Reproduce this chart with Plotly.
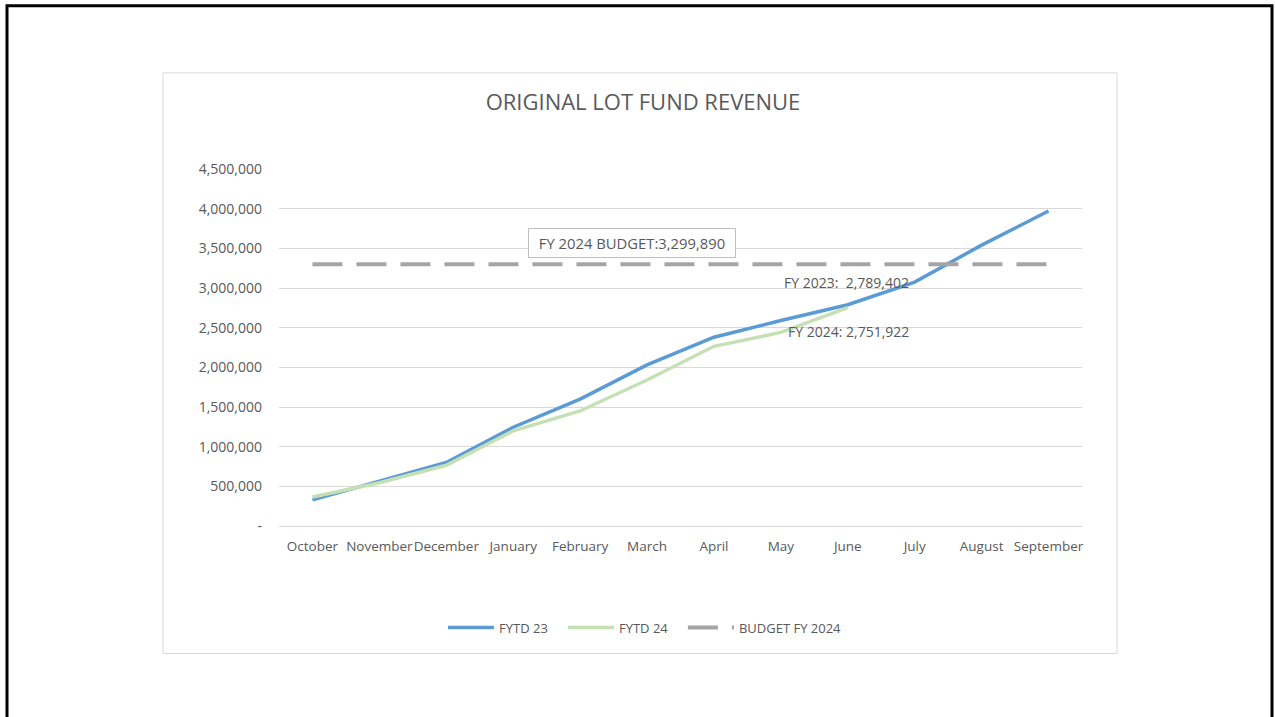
import plotly.graph_objects as go

months = ["October", "November", "December", "January", "February", "March",
          "April", "May", "June", "July", "August", "September"]
fytd_23 = [330000, 560000, 800000, 1245000, 1600000, 2030000,
           2380000, 2590000, 2789402, 3075000, 3540000, 3970000]
fytd_24 = [365000, 545000, 765000, 1200000, 1450000, 1840000,
           2265000, 2440000, 2751922]
budget_fy24 = [3299890] * 12

ytick_vals = [0, 500000, 1000000, 1500000, 2000000, 2500000, 3000000, 3500000, 4000000, 4500000]
ytick_text = ["-"] + [f"{v:,}" for v in ytick_vals[1:]]

FONT = "Open Sans"
GREY_TXT = "#595959"
PAD = "\u00a0" * 3  # a bit more room between legend entries

fig = go.Figure()
fig.add_trace(go.Scatter(x=months, y=fytd_23, mode="lines", name="FYTD 23" + PAD,
                         line=dict(color="#5b9bd5", width=3.5)))
fig.add_trace(go.Scatter(x=months[:len(fytd_24)], y=fytd_24, mode="lines", name="FYTD 24" + PAD,
                         line=dict(color="#c5e0b4", width=3.5)))
fig.add_trace(go.Scatter(x=months, y=budget_fy24, mode="lines", name="BUDGET FY 2024",
                         line=dict(color="#a5a5a5", width=4, dash="30px,14px")))

# plot area in pixels: x 279..1082, y 169..525.6
PL, PR, PT, PB = 279, 1082, 169, 525.6

def px_x(p):
    return (p - PL) / (PR - PL)

def px_y(p):
    return (PB - p) / (PB - PT)

shapes = [
    # page frame
    dict(type="rect", xref="paper", yref="paper",
         x0=px_x(7), x1=px_x(1272), y0=px_y(740), y1=px_y(6),
         line=dict(color="black", width=3), layer="below"),
    # chart box
    dict(type="rect", xref="paper", yref="paper",
         x0=px_x(163), x1=px_x(1117), y0=px_y(653), y1=px_y(73),
         line=dict(color="#d9d9d9", width=1), layer="below"),
]

annotations = [
    dict(text="FY 2024 BUDGET:3,299,890", xref="paper", yref="paper",
         x=px_x(632), y=px_y(242.5), xanchor="center", yanchor="middle", showarrow=False,
         width=198, height=20, align="center",
         font=dict(family=FONT, size=14.8, color=GREY_TXT),
         bordercolor="#bfbfbf", borderwidth=1, borderpad=4, bgcolor="white"),
    dict(text="FY 2023:  2,789,402", xref="paper", yref="paper",
         x=px_x(911), y=px_y(282), xanchor="right", yanchor="middle", showarrow=False,
         font=dict(family=FONT, size=14, color=GREY_TXT)),
    dict(text="FY 2024: 2,751,922", xref="paper", yref="paper",
         x=px_x(911), y=px_y(331), xanchor="right", yanchor="middle", showarrow=False,
         font=dict(family=FONT, size=14, color=GREY_TXT)),
]

fig.update_layout(
    width=1275, height=717,
    margin=dict(l=PL, r=1275 - PR, t=PT, b=717 - PB),
    paper_bgcolor="white", plot_bgcolor="white",
    font=dict(family=FONT, size=14, color=GREY_TXT),
    title=dict(text="ORIGINAL LOT FUND REVENUE", x=px_x(643), xref="paper", xanchor="center",
               y=1 - 102 / 717, yref="container", yanchor="middle",
               font=dict(family=FONT, size=22, color=GREY_TXT)),
    showlegend=True,
    legend=dict(orientation="h", x=px_x(645), xanchor="center", y=px_y(627), yanchor="middle",
                itemwidth=46,
                font=dict(family=FONT, size=13, color=GREY_TXT)),
    shapes=shapes,
    annotations=annotations,
)
fig.update_xaxes(type="category", range=[-0.5, 11.5], showgrid=False, showline=True,
                 linecolor="#d9d9d9", linewidth=1, ticks="", ticklabelstandoff=8,
                 tickangle=0,
                 tickfont=dict(family=FONT, size=13.5, color=GREY_TXT))
fig.update_yaxes(range=[0, 4500000], tickvals=ytick_vals, ticktext=ytick_text,
                 showgrid=True, gridcolor="#d9d9d9", gridwidth=1, zeroline=False,
                 showline=False, ticks="", ticklabelstandoff=16,
                 tickfont=dict(family=FONT, size=14, color=GREY_TXT))

fig.write_html("out.html", config={"displayModeBar": False},
               post_script="document.body.style.margin='0';")
